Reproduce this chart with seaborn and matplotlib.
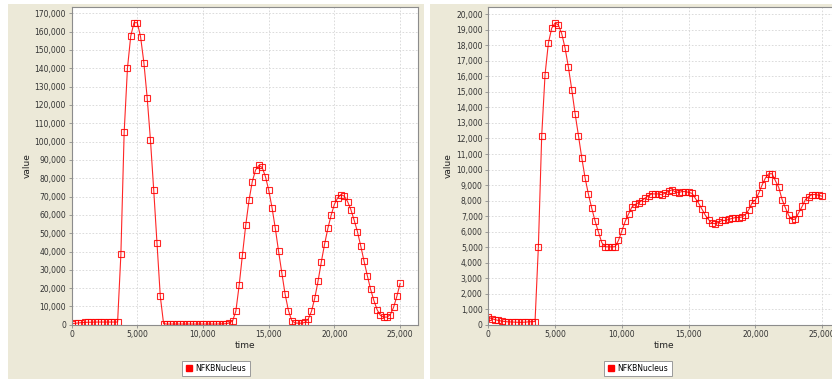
import matplotlib
matplotlib.use("Agg")
import matplotlib.pyplot as plt
from matplotlib.patches import Rectangle
from matplotlib.lines import Line2D
from matplotlib.ticker import MultipleLocator, FuncFormatter
import numpy as np
import pandas as pd
import seaborn as sns

# ---------------- data ----------------
time = [0, 250, 500, 750, 1000, 1250, 1500, 1750, 2000, 2250,
        2500, 2750, 3000, 3250, 3500, 3750, 4000, 4250, 4500, 4750,
        5000, 5250, 5500, 5750, 6000, 6250, 6500, 6750, 7000, 7250,
        7500, 7750, 8000, 8250, 8500, 8750, 9000, 9250, 9500, 9750,
        10000, 10250, 10500, 10750, 11000, 11250, 11500, 11750, 12000, 12250,
        12500, 12750, 13000, 13250, 13500, 13750, 14000, 14250, 14500, 14750,
        15000, 15250, 15500, 15750, 16000, 16250, 16500, 16750, 17000, 17250,
        17500, 17750, 18000, 18250, 18500, 18750, 19000, 19250, 19500, 19750,
        20000, 20250, 20500, 20750, 21000, 21250, 21500, 21750, 22000, 22250,
        22500, 22750, 23000, 23250, 23500, 23750, 24000, 24250, 24500, 24750,
        25000]

nfkb_left = [600, 800, 1000, 1200, 1300, 1400, 1400, 1500, 1500, 1500,
             1500, 1500, 1500, 1500, 1500, 38450, 105100, 140000, 157600, 164900,
             164900, 157100, 143100, 124000, 100900, 73470, 44400, 15520, 600, 400,
             400, 400, 400, 400, 400, 400, 400, 400, 400, 400,
             400, 400, 400, 400, 400, 450, 500, 600, 1000, 2100,
             7500, 21500, 38200, 54300, 67900, 78200, 84500, 87000, 85900, 80900,
             73500, 64000, 52700, 40100, 28200, 16600, 7800, 2300, 1000, 900,
             900, 1300, 3000, 7300, 14400, 23700, 34200, 44000, 52600, 59800,
             65800, 69300, 71100, 70200, 67300, 62900, 57100, 50900, 43100, 34900,
             26900, 19500, 13300, 8200, 5100, 4200, 4200, 5500, 9500, 15500,
             22600]

nfkb_right = [480, 400, 330, 280, 240, 210, 190, 180, 170, 160,
              160, 170, 190, 200, 210, 5030, 12190, 16120, 18150, 19110,
              19440, 19310, 18750, 17820, 16590, 15150, 13600, 12190, 10750, 9450,
              8400, 7500, 6670, 5970, 5290, 5030, 5020, 5020, 5030, 5440,
              6040, 6660, 7130, 7580, 7750, 7860, 8000, 8170, 8320, 8430,
              8430, 8430, 8370, 8490, 8600, 8690, 8560, 8520, 8580, 8580,
              8530, 8470, 8150, 7830, 7450, 7060, 6770, 6550, 6510, 6600,
              6720, 6720, 6790, 6850, 6910, 6910, 6940, 7100, 7400, 7850,
              8040, 8470, 9000, 9450, 9730, 9730, 9280, 8850, 8070, 7530,
              7040, 6770, 6810, 7230, 7620, 8070, 8260, 8390, 8390, 8340,
              8280]

series_name = "NFKBNucleus"
x_label = "time"
y_label = "value"
x_ticks = [0, 5000, 10000, 15000, 20000, 25000]

# ---------------- figure ----------------
W, H = 832, 379
fig = plt.figure(figsize=(W / 100, H / 100), dpi=100, facecolor="white")


def fx(px):
    return px / W


def fy(py):
    return 1 - py / H


beige = "#ECE9D8"
for x0, x1 in [(8, 424), (430, 846)]:
    fig.patches.append(Rectangle((fx(x0), 0), fx(x1) - fx(x0), fy(4),
                                 transform=fig.transFigure, facecolor=beige,
                                 edgecolor="none", zorder=-10))

panels = [
    dict(vals=nfkb_left, left=71.6, width=346.4, ymax=173300, ystep=10000,
         ylab_x=27.5, leg_x=216),
    dict(vals=nfkb_right, left=488.3, width=352.0, ymax=20450, ystep=1000,
         ylab_x=448, leg_x=638),
]

top_px, bot_px = 7.3, 324.8
red = "#ff0000"
fmt = FuncFormatter(lambda v, p: f"{int(round(v)):,}")

for p in panels:
    ax = fig.add_axes([fx(p["left"]), fy(bot_px), p["width"] / W, (bot_px - top_px) / H])
    ax.set_facecolor("white")
    df = pd.DataFrame({"time": time, "value": p["vals"]})
    sns.lineplot(data=df, x="time", y="value", ax=ax, color=red, linewidth=0.8,
                 alpha=0.85, marker="s", markersize=4.0, markerfacecolor="none",
                 markeredgecolor=red, markeredgewidth=0.8, errorbar=None,
                 legend=False)
    ax.set_xlim(0, 26360)
    ax.set_ylim(0, p["ymax"])
    ax.set_xticks(x_ticks)
    ax.yaxis.set_major_locator(MultipleLocator(p["ystep"]))
    ax.xaxis.set_major_formatter(fmt)
    ax.yaxis.set_major_formatter(fmt)
    ax.grid(True, color="#d6d6d6", linestyle=(0, (2, 2)), linewidth=0.6)
    ax.set_axisbelow(True)
    for s in ax.spines.values():
        s.set_color("#8c8c8c")
        s.set_linewidth(0.8)
    ax.tick_params(length=2, width=0.6, color="#8c8c8c", labelsize=5.5,
                   labelcolor="#333333", pad=2)
    ax.set_xlabel(x_label, fontsize=6.5, color="#222222", va="center")
    ax.xaxis.set_label_coords(0.5, (bot_px - 346) / (bot_px - top_px))
    ax.set_ylabel(y_label, fontsize=6.5, color="#222222", va="center")
    ax.yaxis.set_label_coords((p["ylab_x"] - p["left"]) / p["width"], 0.5)

    handle = Line2D([], [], marker="s", linestyle="none", markersize=4.5,
                    markerfacecolor=red, markeredgecolor=red)
    leg = fig.legend([handle], [series_name], loc="center",
                     bbox_to_anchor=(fx(p["leg_x"]), fy(368.5)),
                     fontsize=5.5, frameon=True, fancybox=False,
                     edgecolor="#9a9a9a", facecolor="white", framealpha=1,
                     handlelength=0.8, handletextpad=0.5, borderpad=0.45,
                     borderaxespad=0)
    leg.get_frame().set_linewidth(0.7)

fig.savefig("out.png", dpi=100, facecolor="white")
